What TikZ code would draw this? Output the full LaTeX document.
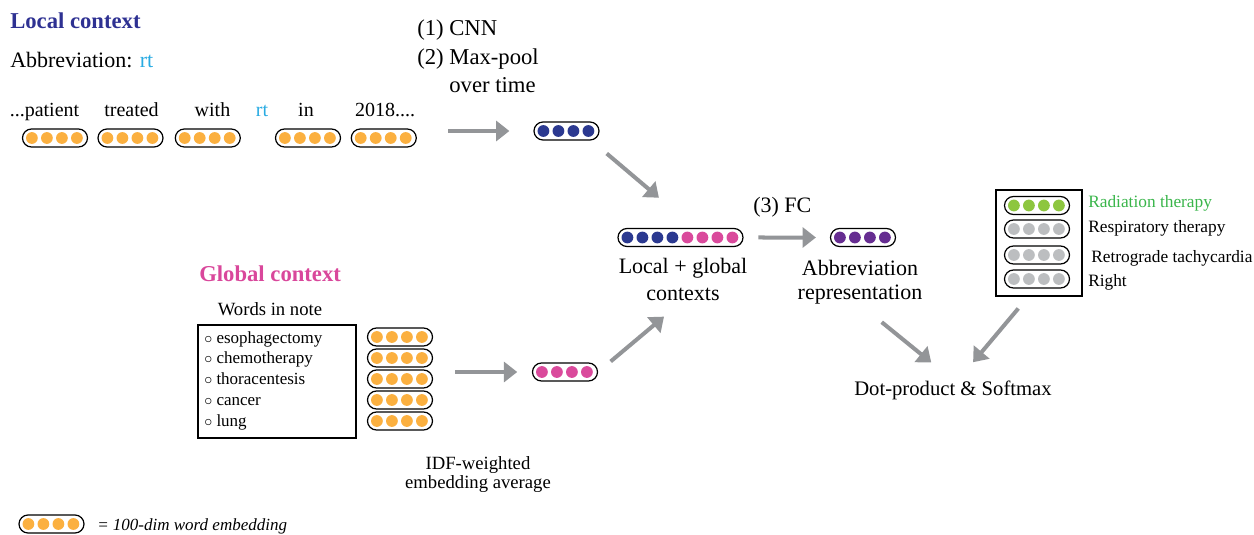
\documentclass[tikz,border=0pt]{standalone}
\usepackage{fontspec}
\setmainfont{Liberation Serif}
\usetikzlibrary{arrows.meta,shapes.misc}

\definecolor{localblue}{HTML}{2E3192}
\definecolor{abbrblue}{HTML}{29ABE2}
\definecolor{wordorange}{HTML}{FBB040}
\definecolor{dotblue}{HTML}{2B3990}
\definecolor{globalpink}{HTML}{D9479B}
\definecolor{dotpink}{HTML}{DA4A9C}
\definecolor{dotpurple}{HTML}{662D91}
\definecolor{dotgreen}{HTML}{8DC63F}
\definecolor{sensegreen}{HTML}{39B54A}
\definecolor{dotgray}{HTML}{BCBEC0}
\definecolor{arrowgray}{HTML}{939598}

% word vector: name, position, dot colour, number of dots
\newcommand{\wordvec}[4]{%
  \node[vecbox, minimum width={(#4*15+5)*0.75pt}] (#1) at (#2) {};
  \foreach \k in {1,...,#4}
    \fill[#3] (#1.west) ++(\k*15-5,0) circle (5.9);
}

\begin{document}
\begin{tikzpicture}[x=0.75pt, y=-0.75pt,
    vecbox/.style={draw, rounded rectangle, line width=0.9pt, minimum height=13.5pt, inner sep=0pt},
    flow/.style={draw=arrowgray, line width=3pt, -{Triangle[length=10pt,width=15pt]}},
    titletext/.style={font=\fontsize{17}{20}\selectfont\bfseries, inner sep=0pt},
    bigtext/.style={font=\fontsize{16.5}{20}\selectfont, inner sep=0pt},
    wordtext/.style={font=\fontsize{15}{18}\selectfont, inner sep=0pt, anchor=base},
    smalltext/.style={font=\fontsize{14}{14.25}\selectfont, inner sep=0pt},
    listtext/.style={font=\fontsize{12.75}{15}\selectfont, inner sep=0pt, anchor=base west},
    sensetext/.style={font=\fontsize{13}{15}\selectfont, inner sep=0pt, anchor=base west}]

    \useasboundingbox (0,0) rectangle (1254,535);

    % Local context
    \node[titletext, text=localblue, anchor=base west] (loctitle) at (10,29) {Local context};
    \node[bigtext, anchor=base west] (abbr) at (10,68) {Abbreviation: \textcolor{abbrblue}{rt}};

    % Sentence and its word vectors
    \node[wordtext] (w1) at (44.5,117) {...patient};
    \node[wordtext] (w2) at (131.5,117) {treated};
    \node[wordtext] (w3) at (212.5,117) {with};
    \node[wordtext, text=abbrblue] (w4) at (262,117) {rt};
    \node[wordtext] (w5) at (306,117) {in};
    \node[wordtext] (w6) at (385,117) {2018....};

    \wordvec{p1}{55,138}{wordorange}{4}
    \wordvec{p2}{130.5,138}{wordorange}{4}
    \wordvec{p3}{207.8,138}{wordorange}{4}
    \wordvec{p5}{308,138}{wordorange}{4}
    \wordvec{p6}{383.8,138}{wordorange}{4}

    % CNN steps
    \node[bigtext, align=left, anchor=north west, font=\fontsize{17}{21.4}\selectfont] (cnn) at (417,19.5)
        {(1) CNN\\(2) Max-pool\\\phantom{(2) }over time};

    \wordvec{vlocal}{566.5,131}{dotblue}{4}
    \draw[flow, shorten <=23.6pt, shorten >=0pt] (p6.east |- vlocal) -- ([xshift=-18pt]vlocal.west);

    % Local + global
    \node[vecbox, minimum width=93.75pt] (vcomb) at (680.5,237.5) {};
    \foreach \k in {1,...,4}
        \fill[dotblue] (vcomb.west) ++(\k*15-5,0) circle (5.9);
    \foreach \k in {5,...,8}
        \fill[dotpink] (vcomb.west) ++(\k*15-5,0) circle (5.9);
    \node[bigtext, align=center, anchor=north] (comblab) at (683,258) {Local + global\\contexts};

    \draw[flow, shorten <=15pt, shorten >=35pt] ([xshift=18.75pt]vlocal.south) -- ([xshift=10.5pt]vcomb.north);

    % Global context
    \node[titletext, text=globalpink, anchor=base west] (globtitle) at (199,281) {Global context};
    \node[smalltext, anchor=base] (notetitle) at (270,315) {Words in note};
    \node[draw, line width=0.8pt, minimum width=118.5pt, minimum height=84.75pt] (notebox) at (277,381.5) {};
    \foreach \w [count=\i] in {esophagectomy,chemotherapy,thoracentesis,cancer,lung}
        \node[listtext] (n\i) at (204,{343+20.75*(\i-1)}) {$\circ$\ \w};

    \wordvec{g1}{400,337}{wordorange}{4}
    \wordvec{g2}{400,358}{wordorange}{4}
    \wordvec{g3}{400,379}{wordorange}{4}
    \wordvec{g4}{400,400}{wordorange}{4}
    \wordvec{g5}{400,421}{wordorange}{4}

    \wordvec{vglobal}{565,372}{dotpink}{4}
    \node[smalltext, align=center, anchor=north] (idflab) at (478,456) {IDF-weighted\\embedding average};

    \draw[flow, shorten <=16.5pt, shorten >=11pt] (g3.east |- vglobal) -- (vglobal.west);
    \draw[flow, shorten <=12.3pt, shorten >=18.6pt] (vglobal.east) -- (comblab.south);

    % FC
    \node[bigtext, anchor=base west] (fc) at (753,212) {(3) FC};
    \wordvec{vabbr}{863,237.5}{dotpurple}{4}
    \node[bigtext, align=center, anchor=north, font=\fontsize{16.5}{18}\selectfont] (abbrlab) at (860,260) {Abbreviation\\representation};
    \draw[flow, shorten <=11pt, shorten >=10.5pt] (vcomb) -- (vabbr);

    % Candidate senses
    \node[draw, line width=0.8pt, minimum width=64.5pt, minimum height=79.5pt] (candbox) at (1039,243) {};
    \wordvec{c1}{1037,205.5}{dotgreen}{4}
    \wordvec{c2}{1037,229}{dotgray}{4}
    \wordvec{c3}{1037,255}{dotgray}{4}
    \wordvec{c4}{1037,279}{dotgray}{4}
    \node[sensetext, text=sensegreen] (s1) at (1088,207) {Radiation therapy};
    \node[sensetext] (s2) at (1088,232) {Respiratory therapy};
    \node[sensetext] (s3) at (1091,262) {Retrograde tachycardia};
    \node[sensetext] (s4) at (1088,286) {Right};

    % Dot-product
    \node[bigtext, anchor=base, font=\fontsize{15.5}{18}\selectfont] (dotlab) at (953,395) {Dot-product \& Softmax};
    \draw[flow, shorten <=21pt, shorten >=21pt] (abbrlab.south) -- (dotlab.north);
    \draw[flow, shorten <=11.7pt, shorten >=17.6pt] ([xshift=-8pt]candbox.south) -- ([xshift=3.75pt]dotlab.north);

    % Legend
    \wordvec{legvec}{51.5,524}{wordorange}{4}
    \node[listtext, font=\fontsize{12.75}{15}\selectfont\itshape] (leglab) at (97,530) {= 100-dim word embedding};

\end{tikzpicture}
\end{document}
